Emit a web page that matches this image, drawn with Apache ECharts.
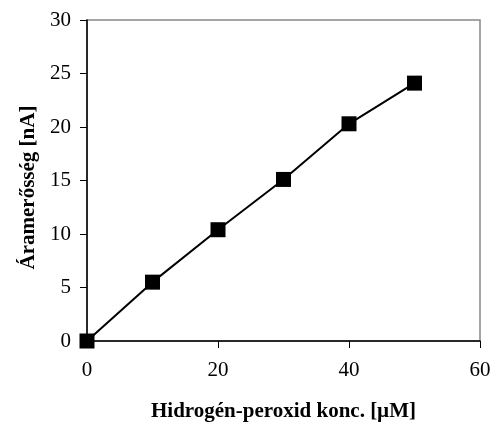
<!DOCTYPE html>
<html lang="hu">

<head>
    <meta charset="UTF-8">
    <title>Áramerősség</title>
    <script src="https://cdn.jsdelivr.net/npm/echarts@6/dist/echarts.min.js"></script>
    <style>
        body { margin: 0; background: #fff; }
    </style>
</head>

<body>
    <div id="chart" style="width: 493px; height: 423px;"></div>

    <script>
        // koncentráció (µM) és mért áram (nA)
        var konc = [0, 10, 20, 30, 40, 50];
        var aram = [0, 5.5, 10.4, 15.1, 20.3, 24.1];

        var data = [];
        for (var i = 0; i < konc.length; i++) {
            data.push([konc[i], aram[i]]);
        }

        var myChart = echarts.init(document.getElementById('chart'));
        var font = '"Liberation Serif", "Times New Roman", serif';

        var option = {
            animation: false,
            grid: {
                left: 87,
                right: 13,
                top: 20,
                bottom: 82,
                outerBoundsMode: 'none',
                containLabel: false,
                show: true,
                borderColor: '#888',
                borderWidth: 1.5
            },
            xAxis: {
                type: 'value',
                min: 0,
                max: 60,
                interval: 20,
                name: 'Hidrogén-peroxid konc. [µM]',
                nameLocation: 'middle',
                nameGap: 60,
                nameTextStyle: { fontFamily: font, fontSize: 21, fontWeight: 'bold', color: '#000' },
                axisLine: { onZero: false, lineStyle: { color: '#000', width: 1.5 } },
                axisTick: { length: 7, lineStyle: { color: '#000' } },
                axisLabel: { fontFamily: font, fontSize: 21, color: '#000', margin: 19 },
                splitLine: { show: false }
            },
            yAxis: {
                type: 'value',
                min: 0,
                max: 30,
                interval: 5,
                name: 'Áramerősség [nA]',
                nameLocation: 'middle',
                nameGap: 47,
                nameTextStyle: { fontFamily: font, fontSize: 21, fontWeight: 'bold', color: '#000', padding: [0, 14, 0, 0] },
                axisLine: { onZero: false, lineStyle: { color: '#000', width: 1.5 } },
                axisTick: { length: 7, lineStyle: { color: '#000' } },
                axisLabel: { fontFamily: font, fontSize: 21, color: '#000', margin: 16 },
                splitLine: { show: false }
            },
            series: [
                {
                    type: 'line',
                    data: data,
                    symbol: 'rect',
                    symbolSize: 15,
                    itemStyle: { color: '#000' },
                    lineStyle: { color: '#000', width: 2 },
                    clip: false
                }
            ]
        };

        option && myChart.setOption(option);
    </script>

</body>

</html>
